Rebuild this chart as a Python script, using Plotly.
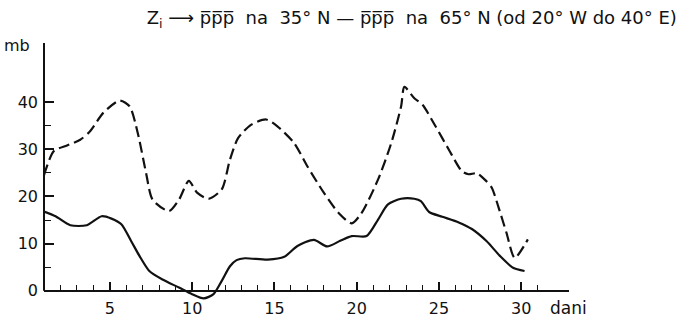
import plotly.graph_objects as go

# Dashed series: Z_i (ppp 35N - ppp 65N)
days_dashed = [1.0, 1.6, 2.4, 3.2, 3.8, 4.6, 5.6, 6.2, 6.7, 7.2, 7.6, 8.6, 9.2, 9.8,
               10.3, 11.0, 11.8, 12.3, 12.8, 13.6, 14.5, 15.2, 16.2, 17.0, 18.0, 18.9,
               19.7, 20.3, 21.3, 22.1, 22.7, 22.9, 23.5, 24.0, 24.8, 25.6, 26.4, 26.8,
               27.3, 27.8, 28.2, 28.6, 29.1, 29.6, 30.4]
mb_dashed = [24.5, 29.6, 30.8, 32.0, 33.8, 37.7, 40.3, 39.1, 33.4, 25.0, 19.3, 16.9, 19.3, 23.3,
             20.8, 19.5, 21.5, 27.8, 32.4, 35.2, 36.3, 34.8, 31.3, 26.4, 20.8, 16.5,
             14.3, 16.5, 23.6, 31.3, 39.1, 43.2, 40.8, 39.4, 34.8, 29.9, 25.3, 24.7,
             24.9, 23.5, 21.9, 17.9, 12.3, 7.0, 10.9]

# Solid series
days_solid = [1.0, 1.7, 2.6, 3.6, 4.5, 5.1, 5.7, 6.3, 6.8, 7.4, 8.2, 9.2, 10.0, 10.7,
              11.3, 11.8, 12.3, 12.7, 13.2, 14.6, 15.6, 16.4, 17.4, 18.2, 19.0, 19.7,
              20.6, 21.3, 21.9, 22.7, 23.5, 23.9, 24.4, 25.2, 26.2, 27.0, 27.9, 28.7,
              29.5, 30.2]
mb_solid = [16.8, 15.8, 13.9, 13.9, 15.8, 15.3, 14.1, 10.5, 7.4, 4.2, 2.4, 0.7, -0.7, -1.6,
            -0.7, 2.1, 5.2, 6.5, 6.9, 6.6, 7.2, 9.5, 10.8, 9.4, 10.6, 11.6,
            11.6, 15.1, 18.3, 19.5, 19.5, 19.0, 16.7, 15.7, 14.5, 13.1, 10.5, 7.4,
            4.9, 4.2]

x_major_ticks = [5, 10, 15, 20, 25, 30]
x_minor_ticks = [d for d in range(2, 32) if d % 5 != 0]
y_major_ticks = [0, 10, 20, 30, 40]
y_minor_ticks = [5, 15, 25, 35]

title_text = "Z<sub>i</sub> ⟶ p̅p̅p̅  na  35° N — p̅p̅p̅  na  65° N (od 20° W do 40° E)"

FONT = "DejaVu Sans"
INK = "#111111"

x_range = [1, 32.9]
y_range = [-3, 52.5]
x_axis_pos = (0 - y_range[0]) / (y_range[1] - y_range[0])

fig = go.Figure()
fig.add_trace(go.Scatter(x=days_dashed, y=mb_dashed, mode="lines",
                         line=dict(color=INK, width=2.2, dash="11px,5px", shape="spline", smoothing=0.7),
                         showlegend=False))
fig.add_trace(go.Scatter(x=days_solid, y=mb_solid, mode="lines",
                         line=dict(color=INK, width=2.2, shape="spline", smoothing=0.7),
                         showlegend=False))

fig.update_layout(
    width=684, height=321,
    margin=dict(l=44, r=115, t=43, b=15.5),
    paper_bgcolor="white", plot_bgcolor="white",
    font=dict(family=FONT, size=16, color=INK),
    title=dict(text=title_text, x=0.602, xanchor="center", y=1 - 18 / 321, yanchor="middle",
               font=dict(family=FONT, size=18, color=INK)),
    xaxis=dict(range=x_range, anchor="free", position=x_axis_pos, automargin=False,
               showline=True, linecolor=INK, linewidth=1.5,
               showgrid=False, zeroline=False,
               tickmode="array", tickvals=x_major_ticks,
               ticks="inside", ticklen=8, tickwidth=1.5, tickcolor=INK,
               ticklabelstandoff=3,
               minor=dict(tickmode="array", tickvals=x_minor_ticks, ticks="inside",
                          ticklen=5, tickwidth=1.2, tickcolor=INK, showgrid=False),
               tickfont=dict(family=FONT, size=16, color=INK)),
    yaxis=dict(range=y_range, automargin=False, showline=False, showgrid=False, zeroline=False,
               tickmode="array", tickvals=y_major_ticks,
               ticks="inside", ticklen=10, tickwidth=1.5, tickcolor=INK,
               ticklabelstandoff=5,
               minor=dict(tickmode="array", tickvals=y_minor_ticks, ticks="inside",
                          ticklen=7, tickwidth=1.2, tickcolor=INK, showgrid=False),
               tickfont=dict(family=FONT, size=16, color=INK)),
    shapes=[dict(type="line", xref="paper", yref="y", x0=0, x1=0, y0=0, y1=y_range[1],
                 line=dict(color=INK, width=2))],
    annotations=[
        dict(text="mb", xref="paper", yref="paper", x=-0.022, y=1 - 3 / 262.5, xanchor="right",
             yanchor="middle", showarrow=False, font=dict(family=FONT, size=16, color=INK)),
        dict(text="dani", xref="paper", yref="paper", x=(548 - 44) / 525, y=x_axis_pos,
             xanchor="left", yanchor="top", yshift=-5, showarrow=False,
             font=dict(family=FONT, size=17, color=INK)),
    ],
)

fig.write_html("out.html")
